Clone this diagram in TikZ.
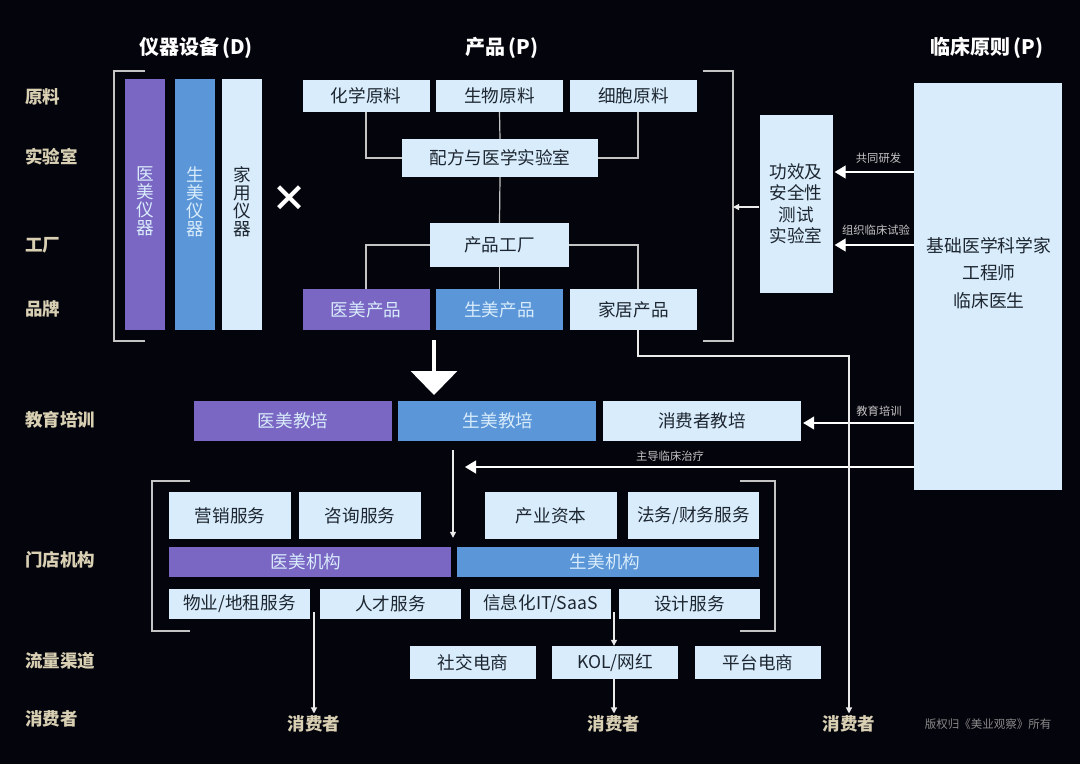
\documentclass[tikz,border=0pt]{standalone}
\usepackage{fontspec}
\setmainfont{Noto Sans CJK SC}
\usetikzlibrary{arrows.meta}
\definecolor{bgdark}{HTML}{04040C}
\definecolor{boxlight}{HTML}{D8ECFB}
\definecolor{boxpurple}{HTML}{7A66C3}
\definecolor{boxblue}{HTML}{5B96D8}
\definecolor{labeltan}{HTML}{D9D0B4}
\definecolor{linegray}{HTML}{C4C4C4}
\definecolor{inktext}{HTML}{1D2630}
\tikzset{
  lightbox/.style={fill=boxlight,text=inktext,inner sep=0,align=center,font=\boxfont},
  purplebox/.style={lightbox,fill=boxpurple,text=boxlight},
  bluebox/.style={lightbox,fill=boxblue,text=boxlight},
  vertbox/.style={minimum width=40,minimum height=251,font=\vertfont},
  sidelabel/.style={text=labeltan,inner sep=0,font=\sidefont},
  titlelabel/.style={text=white,inner sep=0,font=\titlefont},
  edgelabel/.style={text=linegray,inner sep=0,font=\edgefont},
  conn/.style={draw=linegray,line width=1.2pt},
  arr/.style={conn,draw=white!92!black,-{Triangle[width=6pt,length=6pt]}},
  bigarr/.style={conn,draw=white,-{Triangle[width=13pt,length=11pt]}},
  bracket/.style={draw=linegray,line width=1.2pt},
}
\newcommand{\boxfont}{\fontsize{17.6}{21.5}\selectfont}
\newcommand{\vertfont}{\fontsize{17.6}{18}\selectfont}
\newcommand{\sidefont}{\fontsize{17.5}{21}\selectfont\bfseries}
\newcommand{\titlefont}{\fontsize{20}{24}\selectfont\bfseries}
\newcommand{\edgefont}{\fontsize{11.3}{13}\selectfont}
\begin{document}
\begin{tikzpicture}[x=1pt,y=-1pt]
    \pgfmathsetmacro{\prodwidth}{127}
    \pgfmathsetmacro{\eduwidth}{198}
    \pgfmathsetmacro{\shopwidth}{141}
    \pgfmathsetmacro{\channelwidth}{126}
    \fill[bgdark] (0,0) rectangle (1080,764);
    \useasboundingbox (0,0) rectangle (1080,764);
    % titles and row labels
    \node[titlelabel] (devtitle) at (196,48) {仪器设备\,(D)};
    \node[titlelabel] (prodtitle) at (502,48) {产品\,(P)};
    \node[titlelabel] (clintitle) at (987,48) {临床原则\,(P)};
    \node[sidelabel,anchor=west] (rowraw) at (25,97) {原料};
    \node[sidelabel,anchor=west] (rowlab) at (25,157) {实验室};
    \node[sidelabel,anchor=west] (rowfactory) at (25,245) {工厂};
    \node[sidelabel,anchor=west] (rowbrand) at (25,309) {品牌};
    \node[sidelabel,anchor=west] (rowedu) at (25,420) {教育培训};
    \node[sidelabel,anchor=west] (rowshop) at (25,560) {门店机构};
    \node[sidelabel,anchor=west] (rowchannel) at (25,661) {流量渠道};
    \node[sidelabel,anchor=west] (rowconsumer) at (25,719) {消费者};
    % devices
    \node[purplebox,vertbox] (meddev) at (145,204.5) {医\\美\\仪\\器\\[-11pt]\mbox{}};
    \node[bluebox,vertbox] (lifedev) at (195,204.5) {生\\美\\仪\\器\\[-11pt]\mbox{}};
    \node[lightbox,vertbox] (homedev) at (242,204.5) {家\\用\\仪\\器\\[-11pt]\mbox{}};
    \node[text=white,inner sep=0,font=\fontsize{36}{36}\selectfont\bfseries] (times) at (289,199) {×};
    \draw[bracket] (145,71) -| (114,341) -- (145,341);
    % products
    \node[lightbox,minimum width=\prodwidth,minimum height=32] (chemraw) at (366,96) {化学原料};
    \node[lightbox,minimum width=\prodwidth,minimum height=32] (bioraw) at (499.5,96) {生物原料};
    \node[lightbox,minimum width=\prodwidth,minimum height=32] (cellraw) at (633.5,96) {细胞原料};
    \node[lightbox,minimum width=196,minimum height=38] (formula) at (500,158) {配方与医学实验室};
    \node[lightbox,minimum width=139,minimum height=44] (factory) at (499.5,245) {产品工厂};
    \node[purplebox,minimum width=\prodwidth,minimum height=41] (medprod) at (366,309.5) {医美产品};
    \node[bluebox,minimum width=\prodwidth,minimum height=41] (lifeprod) at (499.5,309.5) {生美产品};
    \node[lightbox,minimum width=\prodwidth,minimum height=41] (homeprod) at (633.5,309.5) {家居产品};
    \draw[conn] (chemraw.south) |- (formula.west);
    \draw[conn] ([xshift=4.5]cellraw.south) |- (formula.east);
    \draw[conn] (bioraw.south) -- (formula.north);
    \draw[conn] (formula.south) -- (factory.north);
    \draw[conn] (factory.west) -| (medprod.north);
    \draw[conn] (factory.south) -- (lifeprod.north);
    \draw[conn] (factory.east) -| ([xshift=4.5]homeprod.north);
    \draw[bracket] (703,71) -| (733,341) -- (703,341);
    % lab and clinic
    \node[lightbox,minimum width=73,minimum height=178] (testlab) at (796,204) {功效及\\安全性\\测试\\实验室\\[-19.5pt]\mbox{}};
    \node[lightbox,minimum width=148,minimum height=407] (clinic) at (988,286.5) {};
    \node[text=inktext,inner sep=0,align=center,font=\fontsize{17.8}{27.5}\selectfont] (clinictext) at (989,273) {基础医学科学家\\工程师\\临床医生};
    \coordinate (bracketmid) at (733,207);
    \coordinate (jointrd) at (914,172);
    \coordinate (trial) at (914,245);
    \coordinate (eduin) at (914,423);
    \coordinate (treat) at (914,467);
    \coordinate (treatend) at (465,467);
    \draw[bigarr,shorten >=2pt] (jointrd) -- (jointrd -| testlab.east);
    \draw[bigarr,shorten >=2pt] (trial) -- (trial -| testlab.east);
    \draw[arr] (testlab.west |- bracketmid) -- (bracketmid);
    \node[edgelabel] (jointrdlabel) at (878.5,158) {共同研发};
    \node[edgelabel] (triallabel) at (876,230) {组织临床试验};
    % big arrow
    \coordinate (dropstart) at (434,340);
    \coordinate (dropend) at (434,395);
    \draw[draw=white,line width=3.5pt,-{Triangle[width=46pt,length=24pt]}] (dropstart) -- (dropend);
    % education
    \node[purplebox,minimum width=\eduwidth,minimum height=40] (mededu) at (293,420.5) {医美教培};
    \node[bluebox,minimum width=\eduwidth,minimum height=40] (lifeedu) at (497,420.5) {\kern2pt 生美教培};
    \node[lightbox,minimum width=\eduwidth,minimum height=40] (consedu) at (702,420.5) {消费者教培};
    \draw[bigarr,shorten >=2pt] (eduin) -- (eduin -| consedu.east);
    \draw[bigarr] (treat) -- (treatend);
    \node[edgelabel] (edulabel) at (879,411) {教育培训};
    \node[edgelabel] (treatlabel) at (670,456) {主导临床治疗};
    % shops and services
    \draw[bracket] (190,481) -| (152,631) -- (190,631);
    \draw[bracket] (740,481) -| (775,631) -- (740,631);
    \node[lightbox,minimum width=122,minimum height=47] (marketing) at (230,515.5) {营销服务};
    \node[lightbox,minimum width=122,minimum height=47] (consulting) at (360,515.5) {咨询服务};
    \node[lightbox,minimum width=132,minimum height=47] (capital) at (551,515.5) {产业资本};
    \node[lightbox,minimum width=131,minimum height=47] (legal) at (693.5,515.5) {法务/财务服务};
    \node[purplebox,minimum width=282,minimum height=30] (medshop) at (310,562) {医美机构\kern8pt};
    \node[bluebox,minimum width=302,minimum height=30] (lifeshop) at (608,562) {生美机构\kern6pt};
    \node[lightbox,minimum width=\shopwidth,minimum height=30] (property) at (239.5,604) {物业/地租服务};
    \node[lightbox,minimum width=\shopwidth,minimum height=30] (talent) at (390.5,604) {人才服务};
    \node[lightbox,minimum width=\shopwidth,minimum height=30] (itsaas) at (540.5,604) {信息化IT/SaaS};
    \node[lightbox,minimum width=\shopwidth,minimum height=30] (design) at (689.5,604) {设计服务};
    \coordinate (eduout) at (453,450);
    \draw[arr,shorten >=9pt] (eduout) -- (eduout |- medshop.north);
    % channels and consumers
    \node[lightbox,minimum width=\channelwidth,minimum height=33] (social) at (473,662.5) {社交电商};
    \node[lightbox,minimum width=\channelwidth,minimum height=33] (kol) at (615,662.5) {KOL/网红};
    \node[lightbox,minimum width=\channelwidth,minimum height=33] (platform) at (758,662.5) {平台电商};
    \node[sidelabel,inner sep=2pt] (consumerleft) at (314,724) {消费者};
    \node[sidelabel,inner sep=2pt] (consumermid) at (614,724) {消费者};
    \node[sidelabel,inner sep=2pt] (consumerright) at (849,724) {消费者};
    \coordinate (leftout) at (314,612);
    \coordinate (midout) at (614,612);
    \coordinate (hometurn) at (849,356);
    \draw[arr] (leftout) -- (consumerleft.north);
    \draw[arr] (midout) -- (midout |- kol.north);
    \draw[arr] (kol.south -| consumermid) -- (consumermid.north);
    \draw[arr] ([xshift=4.5]homeprod.south) |- (hometurn) -- (consumerright.north);
    \node[text=linegray!70!black,inner sep=0,font=\fontsize{11.5}{14}\selectfont] (rights) at (988,724) {版权归《美业观察》所有};
\end{tikzpicture}
\end{document}
